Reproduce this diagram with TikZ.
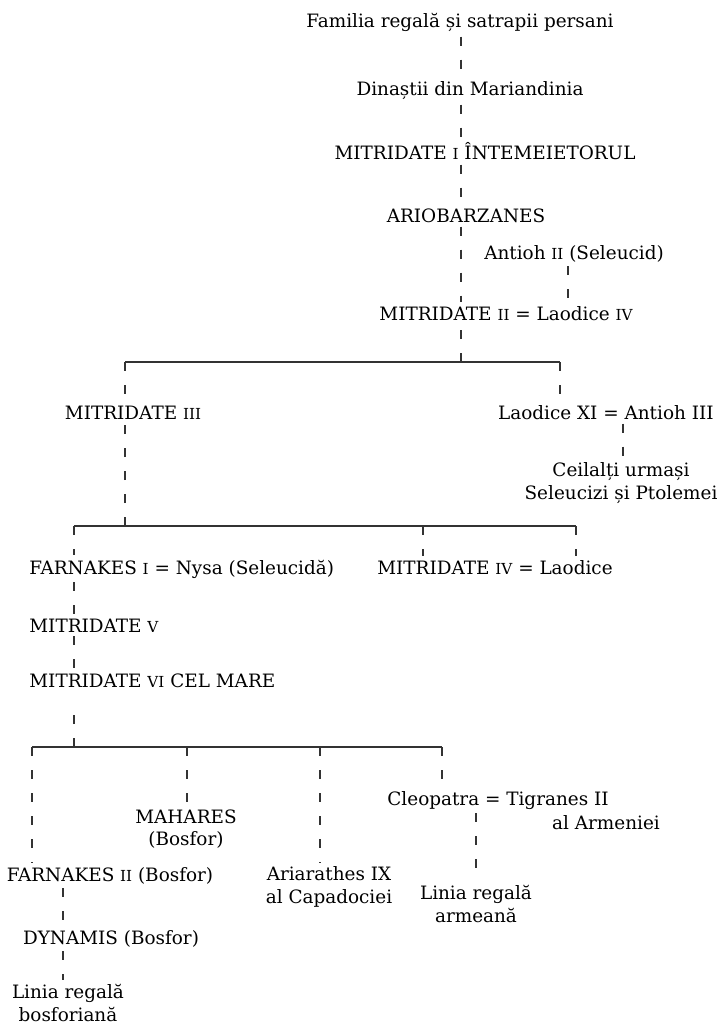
\documentclass[tikz,border=0pt]{standalone}
\usepackage{fontspec}
\setmainfont{DejaVu Serif}
\newcommand{\smrom}[1]{{\fontsize{7.6}{7.6}\selectfont #1}}

\begin{document}
\begin{tikzpicture}[x=0.5pt,y=-0.5pt]
% Tree style
\tikzset{
    person/.style={anchor=base, inner sep=2pt, text=black, font=\fontsize{9.2}{11.2}\selectfont},
    twoline/.style={person, anchor=center, align=center},
    kin/.style={draw=black!80, line width=0.6pt, dash pattern=on 4.5pt off 7pt},
    bar/.style={draw=black!80, line width=0.6pt}
}
\useasboundingbox (0,0) rectangle (719,1027);

% Persons
\node[person] (FAM) at (460,28) {Familia regală și satrapii persani};
\node[person] (DIN) at (470,96) {Dinaștii din Mariandinia};
\node[person] (MITa) at (485,160) {MITRIDATE \smrom{I} ÎNTEMEIETORUL};
\node[person] (ARIO) at (466,222) {ARIOBARZANES};
\node[person] (ANTa) at (574,259) {Antioh \smrom{II} (Seleucid)};
\node[person] (MITb) at (506,320) {MITRIDATE \smrom{II} = Laodice \smrom{IV}};
\node[person] (MITc) at (133,419) {MITRIDATE \smrom{III}};
\node[person, anchor=base east] (LAOa) at (718,419) {Laodice XI = Antioh III};
\node[twoline] (CEIL) at (621,483) {Ceilalți urmași\\Seleucizi și Ptolemei};
\node[person, anchor=base west] (FARa) at (25,574) {FARNAKES \smrom{I} = Nysa (Seleucidă)};
\node[person] (MITd) at (495,574) {MITRIDATE \smrom{IV} = Laodice};
\node[person, anchor=base west] (MITe) at (25,632) {MITRIDATE \smrom{V}};
\node[person, anchor=base west] (MITf) at (25,687) {MITRIDATE \smrom{VI} CEL MARE};
\node[person] (CLEO) at (498,805) {Cleopatra = Tigranes II};
\node[person] (ARM) at (606,829) {al Armeniei};
\node[twoline] (MAH) at (186,829) {MAHARES\\(Bosfor)};
\node[person] (FARb) at (110,881) {FARNAKES \smrom{II} (Bosfor)};
\node[twoline] (ARIA) at (329,887) {Ariarathes IX\\al Capadociei};
\node[twoline] (LINa) at (476,904) {Linia regală\\armeană};
\node[person] (DYNA) at (111,944) {DYNAMIS (Bosfor)};
\node[twoline] (LINb) at (68,1003) {Linia regală\\bosforiană};

% Junctions
\coordinate (Ja) at (461,362);
\coordinate (Jal) at (125,362);
\coordinate (Jar) at (560,362);
\coordinate (Jb) at (125,526);
\coordinate (Jbl) at (74,526);
\coordinate (Jbm) at (423,526);
\coordinate (Jbr) at (576,526);
\coordinate (Jc) at (74,747);
\coordinate (Jcl) at (32,747);
\coordinate (Jcm) at (187,747);
\coordinate (Jcn) at (320,747);
\coordinate (Jcr) at (442,747);
\coordinate (Xa) at (568,0);
\coordinate (Xb) at (623,0);
\coordinate (Xc) at (476,0);
\coordinate (Xd) at (63,0);

% Bars
\draw[bar] (Jal) -- (Jar);
\draw[bar] (Jbl) -- (Jbr);
\draw[bar] (Jcl) -- (Jcr);

% Descent
\draw[kin] (FAM.south -| Ja) -- (DIN.north -| Ja);
\draw[kin] (DIN.south -| Ja) -- (MITa.north -| Ja);
\draw[kin] (MITa.south -| Ja) -- (ARIO.north -| Ja);
\draw[kin] (ARIO.south -| Ja) -- (MITb.north -| Ja);
\draw[kin] (Ja) -- (MITb.south -| Ja);
\draw[kin] (ANTa.south -| Xa) -- (MITb.north -| Xa);
\draw[kin] (Jal) -- (MITc.north -| Jal);
\draw[kin] (Jar) -- (LAOa.north -| Jar);
\draw[kin] (Jb) -- (MITc.south -| Jb);
\draw[kin] (LAOa.south -| Xb) -- (CEIL.north -| Xb);
\draw[kin] (Jbl) -- (FARa.north -| Jbl);
\draw[kin] (Jbm) -- (MITd.north -| Jbm);
\draw[kin] (Jbr) -- (MITd.north -| Jbr);
\draw[kin] (FARa.south -| Jbl) -- (MITe.north -| Jbl);
\draw[kin] (MITe.south -| Jbl) -- (MITf.north -| Jbl);
\draw[kin, shorten >=10pt] (Jc) -- (MITf.south -| Jc);
\draw[kin] (Jcl) -- (FARb.north -| Jcl);
\draw[kin] (Jcm) -- (MAH.north -| Jcm);
\draw[kin] (Jcn) -- (ARIA.north -| Jcn);
\draw[kin] (Jcr) -- (CLEO.north -| Jcr);
\draw[kin] (CLEO.south -| Xc) -- (LINa.north -| Xc);
\draw[kin] (FARb.south -| Xd) -- (DYNA.north -| Xd);
\draw[kin] (DYNA.south -| Xd) -- (LINb.north -| Xd);

\end{tikzpicture}
\end{document}
